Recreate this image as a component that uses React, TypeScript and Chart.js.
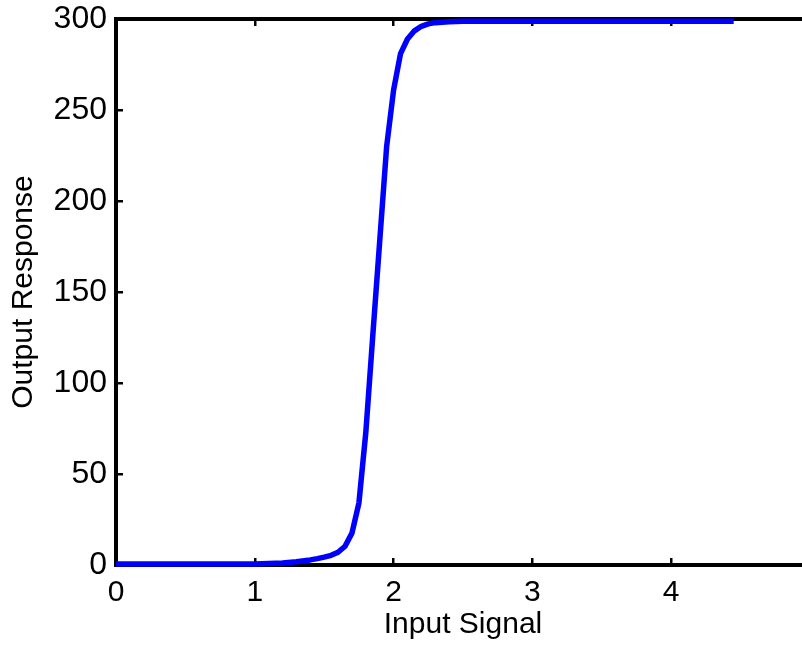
import React, { useEffect, useRef } from "react";
import { Chart, registerables } from "chart.js";

Chart.register(...registerables);

// Input signal (x) and output response (y)
const xValues = [
  0, 0.5, 1.0, 1.1, 1.2, 1.3, 1.4, 1.45, 1.5, 1.55, 1.6, 1.65, 1.7, 1.75, 1.8,
  1.85, 1.9, 1.95, 2.0, 2.05, 2.1, 2.15, 2.2, 2.25, 2.3, 2.4, 2.5, 2.75, 3.0,
  3.5, 4.0, 4.45,
];
const yValues = [
  0.5, 0.5, 0.6, 0.8, 1.1, 1.8, 2.8, 3.5, 4.3, 5.3, 7.0, 10.3, 17.5, 34, 73,
  126, 178, 230, 261, 281, 289, 293.5, 296, 297.3, 298, 298.5, 298.7, 298.8,
  298.8, 298.8, 298.8, 298.8,
];

const xMin = 0;
const xMax = 5;
const xStep = 1;
const yMin = 0;
const yMax = 300;
const yStep = 50;
const xTitle = "Input Signal";
const yTitle = "Output Response";

const FONT = "'Liberation Sans', Arial, Helvetica, sans-serif";

const noScalePadding = (s: any) => {
  s.paddingTop = 0;
  s.paddingBottom = 0;
  s.paddingLeft = 0;
  s.paddingRight = 0;
};

export default function App() {
  const ref = useRef<HTMLCanvasElement>(null);

  useEffect(() => {
    const canvas = ref.current;
    if (!canvas) return;

    const tickGrid = {
      display: true,
      drawOnChartArea: false,
      drawTicks: true,
      tickLength: -7,
      tickWidth: 2.5,
      lineWidth: 2.5,
      color: "#000000",
    };
    const border = { display: true, color: "#000000", width: 4 };

    const chart = new Chart(canvas, {
      type: "line",
      data: {
        datasets: [
          {
            data: xValues.map((x, i) => ({ x, y: yValues[i] })),
            borderColor: "#0000ff",
            backgroundColor: "#0000ff",
            borderWidth: 5.5,
            pointRadius: 0,
            tension: 0,
            fill: false,
            clip: false as any,
            borderJoinStyle: "round",
          } as any,
        ],
      },
      options: {
        animation: false,
        responsive: false,
        maintainAspectRatio: false,
        events: [],
        layout: { padding: { left: 0, right: 20, top: 19, bottom: 0 } },
        plugins: {
          legend: { display: false },
          tooltip: { enabled: false },
        },
        scales: {
          x: {
            type: "linear",
            axis: "x",
            position: "bottom",
            min: xMin,
            max: xMax,
            grid: tickGrid as any,
            border,
            ticks: {
              stepSize: xStep,
              color: "#000000",
              padding: 17,
              maxRotation: 0,
              autoSkip: false,
              font: { family: FONT, size: 30, lineHeight: 1.2 },
            },
            title: {
              display: true,
              text: xTitle,
              color: "#000000",
              font: { family: FONT, size: 30, lineHeight: 1.2 },
              padding: { top: 0, bottom: 2 },
            },
            afterFit: (s: any) => {
              s.height = 80;
              noScalePadding(s);
            },
          },
          x2: {
            type: "linear",
            axis: "x",
            position: "top",
            min: xMin,
            max: xMax,
            grid: tickGrid as any,
            border,
            ticks: { display: false, stepSize: xStep },
            afterFit: (s: any) => {
              s.height = 0;
              noScalePadding(s);
            },
          },
          y: {
            type: "linear",
            position: "left",
            min: yMin,
            max: yMax,
            grid: tickGrid as any,
            border,
            ticks: {
              stepSize: yStep,
              color: "#000000",
              padding: 16,
              font: { family: FONT, size: 32, lineHeight: 1.2 },
            },
            title: {
              display: true,
              text: yTitle,
              color: "#000000",
              font: { family: FONT, size: 30, lineHeight: 1.2 },
              padding: { top: 6, bottom: 0 },
            },
            afterFit: (s: any) => {
              s.width = 116;
              noScalePadding(s);
            },
          },
        },
      } as any,
    });

    return () => {
      chart.destroy();
    };
  }, []);

  return (
    <div
      style={{
        position: "fixed",
        left: 0,
        top: 0,
        width: 802,
        height: 645,
        overflow: "hidden",
        background: "#ffffff",
      }}
    >
      <canvas
        ref={ref}
        width={830}
        height={645}
        style={{ display: "block", width: 830, height: 645 }}
      />
    </div>
  );
}
